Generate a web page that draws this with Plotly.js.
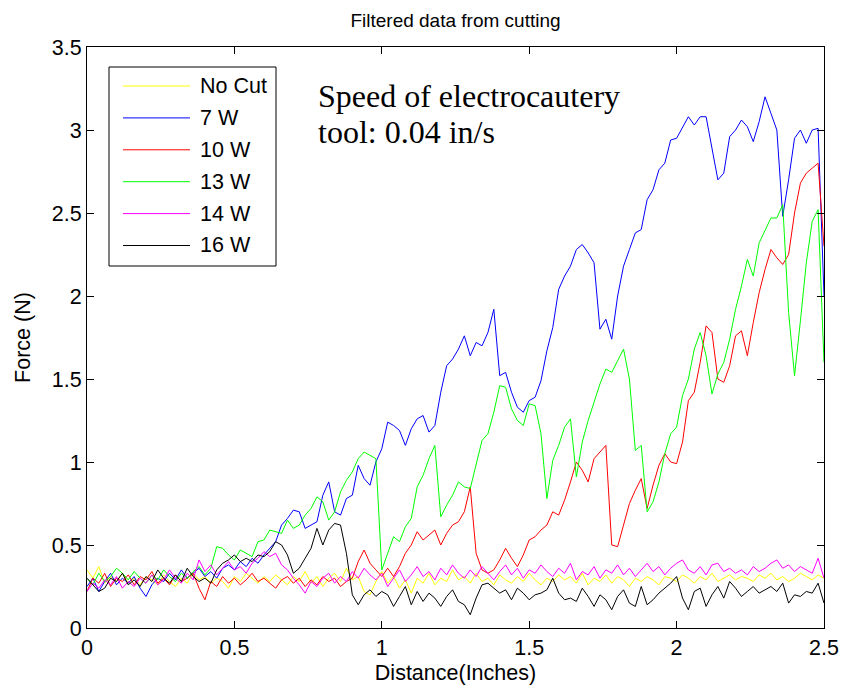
<!DOCTYPE html>
<html>
<head>
<meta charset="utf-8">
<script src="https://cdn.plot.ly/plotly-3.0.1.min.js"></script>
<style>
  html, body { margin: 0; padding: 0; background: #ffffff; }
  #chart { width: 845px; height: 690px; }
</style>
</head>
<body>
<div id="chart"></div>
<script>
// ---------------- DATA ----------------
const chartTitle = "Filtered data from cutting";
const xTitle = "Distance(Inches)";
const yTitle = "Force (N)";
const noteLines = ["Speed of electrocautery", "tool: 0.04 in/s"];
const seriesNames = ["No Cut", "7 W", "10 W", "13 W", "14 W", "16 W"];

const distance = [
  0.00,0.02,0.04,0.06,0.08,0.10,0.12,0.14,0.16,0.18,
  0.20,0.22,0.24,0.26,0.28,0.30,0.32,0.34,0.36,0.38,
  0.40,0.42,0.44,0.46,0.48,0.50,0.52,0.54,0.56,0.58,
  0.60,0.62,0.64,0.66,0.68,0.70,0.72,0.74,0.76,0.78,
  0.80,0.82,0.84,0.86,0.88,0.90,0.92,0.94,0.96,0.98,
  1.00,1.02,1.04,1.06,1.08,1.10,1.12,1.14,1.16,1.18,
  1.20,1.22,1.24,1.26,1.28,1.30,1.32,1.34,1.36,1.38,
  1.40,1.42,1.44,1.46,1.48,1.50,1.52,1.54,1.56,1.58,
  1.60,1.62,1.64,1.66,1.68,1.70,1.72,1.74,1.76,1.78,
  1.80,1.82,1.84,1.86,1.88,1.90,1.92,1.94,1.96,1.98,
  2.00,2.02,2.04,2.06,2.08,2.10,2.12,2.14,2.16,2.18,
  2.20,2.22,2.24,2.26,2.28,2.30,2.32,2.34,2.36,2.38,
  2.40,2.42,2.44,2.46,2.48,2.50
];

const forceNoCut = [
  0.35,0.30,0.37,0.27,0.31,0.28,0.33,0.27,0.30,0.26,
  0.31,0.29,0.26,0.32,0.28,0.25,0.30,0.27,0.33,0.29,
  0.31,0.27,0.30,0.28,0.24,0.31,0.28,0.33,0.30,0.27,
  0.31,0.28,0.32,0.29,0.26,0.31,0.28,0.34,0.27,0.31,
  0.25,0.30,0.33,0.28,0.36,0.29,0.31,0.22,0.20,0.28,
  0.34,0.27,0.31,0.24,0.29,0.21,0.30,0.27,0.33,0.26,
  0.30,0.28,0.35,0.29,0.31,0.27,0.33,0.28,0.30,0.26,
  0.32,0.29,0.27,0.31,0.28,0.33,0.29,0.26,0.30,0.28,
  0.32,0.29,0.31,0.27,0.33,0.26,0.30,0.28,0.32,0.27,
  0.31,0.29,0.25,0.30,0.28,0.31,0.29,0.26,0.31,0.30,
  0.28,0.32,0.30,0.27,0.31,0.29,0.33,0.28,0.30,0.32,
  0.29,0.31,0.30,0.28,0.32,0.30,0.33,0.29,0.31,0.28,
  0.30,0.33,0.31,0.29,0.32,0.30
];

const force7W = [
  0.25,0.30,0.22,0.28,0.33,0.26,0.30,0.27,0.31,0.24,
  0.19,0.26,0.30,0.28,0.33,0.29,0.35,0.30,0.33,0.36,
  0.31,0.34,0.30,0.36,0.38,0.35,0.40,0.37,0.42,0.39,
  0.44,0.48,0.52,0.62,0.66,0.71,0.70,0.60,0.62,0.64,
  0.80,0.88,0.70,0.68,0.78,0.80,0.98,0.90,0.86,1.00,
  1.08,1.24,1.22,1.19,1.10,1.20,1.26,1.28,1.18,1.22,
  1.42,1.58,1.62,1.68,1.76,1.64,1.72,1.70,1.78,1.92,
  1.52,1.54,1.42,1.33,1.30,1.37,1.39,1.49,1.67,1.81,
  2.04,2.12,2.18,2.28,2.31,2.26,2.20,1.80,1.86,1.74,
  2.00,2.18,2.28,2.38,2.40,2.58,2.64,2.76,2.80,2.94,
  2.95,3.02,3.08,3.03,3.08,3.08,2.90,2.70,2.74,2.96,
  3.00,3.06,3.02,2.93,3.05,3.20,3.10,3.00,2.48,2.70,
  2.95,3.00,2.92,3.00,3.01,2.00
];

const force10W = [
  0.22,0.30,0.27,0.33,0.25,0.30,0.28,0.32,0.26,0.31,
  0.29,0.34,0.27,0.30,0.26,0.32,0.28,0.30,0.33,0.24,
  0.17,0.28,0.25,0.31,0.27,0.30,0.26,0.29,0.33,0.28,
  0.30,0.27,0.24,0.29,0.31,0.27,0.30,0.25,0.29,0.26,
  0.31,0.28,0.30,0.25,0.28,0.30,0.40,0.47,0.39,0.35,
  0.31,0.36,0.31,0.37,0.45,0.50,0.58,0.53,0.56,0.59,
  0.50,0.57,0.62,0.64,0.70,0.85,0.45,0.35,0.33,0.35,
  0.41,0.48,0.42,0.37,0.44,0.53,0.55,0.59,0.62,0.70,
  0.68,0.77,0.88,1.00,0.95,0.88,1.02,1.06,1.10,0.50,
  0.49,0.62,0.75,0.83,0.90,0.72,0.86,0.98,1.05,1.00,
  0.99,1.12,1.37,1.42,1.60,1.82,1.78,1.50,1.48,1.58,
  1.76,1.79,1.64,1.84,2.02,2.16,2.28,2.23,2.19,2.25,
  2.50,2.68,2.74,2.77,2.80,2.30
];

const force13W = [
  0.30,0.26,0.33,0.28,0.31,0.36,0.33,0.29,0.34,0.30,
  0.27,0.32,0.29,0.35,0.31,0.28,0.33,0.30,0.34,0.37,
  0.32,0.36,0.49,0.48,0.44,0.41,0.47,0.45,0.43,0.52,
  0.53,0.59,0.58,0.57,0.65,0.60,0.62,0.68,0.72,0.79,
  0.76,0.65,0.70,0.82,0.89,0.94,1.02,1.06,1.04,1.02,
  0.35,0.45,0.55,0.52,0.61,0.66,0.85,0.92,1.02,1.10,
  0.67,0.74,0.80,0.88,0.85,0.84,0.99,1.13,1.17,1.30,
  1.46,1.45,1.32,1.25,1.22,1.35,1.34,1.17,0.78,1.01,
  1.10,1.21,1.26,0.91,1.12,1.25,1.36,1.47,1.56,1.54,
  1.61,1.68,1.50,1.07,1.10,0.70,0.76,0.88,1.05,1.17,
  1.21,1.40,1.50,1.68,1.78,1.64,1.41,1.53,1.60,1.74,
  1.92,2.06,2.22,2.12,2.32,2.40,2.47,2.47,2.55,1.90,
  1.52,1.85,2.20,2.45,2.52,1.60
];

const force14W = [
  0.22,0.27,0.24,0.29,0.26,0.31,0.24,0.28,0.25,0.30,
  0.27,0.32,0.26,0.29,0.35,0.30,0.27,0.33,0.29,0.41,
  0.34,0.38,0.32,0.36,0.40,0.35,0.37,0.33,0.39,0.42,
  0.46,0.43,0.45,0.38,0.35,0.30,0.26,0.21,0.28,0.25,
  0.30,0.33,0.27,0.31,0.28,0.34,0.30,0.36,0.32,0.29,
  0.33,0.25,0.30,0.35,0.28,0.32,0.37,0.31,0.34,0.29,
  0.36,0.32,0.38,0.33,0.30,0.35,0.31,0.37,0.33,0.29,
  0.34,0.38,0.32,0.36,0.30,0.35,0.33,0.38,0.34,0.31,
  0.36,0.33,0.39,0.29,0.34,0.32,0.37,0.30,0.35,0.33,
  0.38,0.32,0.36,0.31,0.35,0.39,0.34,0.37,0.32,0.36,
  0.39,0.41,0.35,0.33,0.37,0.32,0.38,0.39,0.34,0.36,
  0.33,0.35,0.32,0.37,0.34,0.36,0.39,0.41,0.36,0.38,
  0.34,0.37,0.35,0.33,0.42,0.30
];

const force16W = [
  0.30,0.26,0.22,0.24,0.30,0.28,0.33,0.26,0.29,0.25,
  0.31,0.28,0.35,0.30,0.27,0.32,0.28,0.36,0.31,0.28,
  0.30,0.27,0.35,0.39,0.41,0.44,0.40,0.42,0.40,0.44,
  0.43,0.46,0.52,0.50,0.44,0.33,0.36,0.42,0.48,0.60,
  0.50,0.59,0.63,0.62,0.45,0.20,0.14,0.20,0.23,0.19,
  0.22,0.20,0.13,0.19,0.25,0.14,0.22,0.16,0.21,0.18,
  0.13,0.19,0.23,0.16,0.14,0.08,0.18,0.26,0.27,0.24,
  0.21,0.23,0.17,0.24,0.21,0.17,0.20,0.21,0.23,0.30,
  0.21,0.17,0.18,0.16,0.24,0.19,0.13,0.20,0.17,0.11,
  0.19,0.23,0.15,0.13,0.25,0.14,0.17,0.21,0.24,0.27,
  0.31,0.18,0.11,0.22,0.24,0.13,0.20,0.25,0.18,0.28,
  0.24,0.19,0.22,0.25,0.21,0.23,0.25,0.22,0.27,0.15,
  0.20,0.19,0.22,0.21,0.27,0.15
];

const xTickVals = [0, 0.5, 1, 1.5, 2, 2.5];
const xTickText = ["0", "0.5", "1", "1.5", "2", "2.5"];
const yTickVals = [0, 0.5, 1, 1.5, 2, 2.5, 3, 3.5];
const yTickText = ["0", "0.5", "1", "1.5", "2", "2.5", "3", "3.5"];

// ---------------- STYLE ----------------
const seriesColors = ["#ffff00", "#0000ff", "#ff0000", "#00ff00", "#ff00ff", "#000000"];
const allForces = [forceNoCut, force7W, force10W, force13W, force14W, force16W];

const W = 845, H = 690;
const M = { l: 87, r: 21, t: 47, b: 62 };
const PW = W - M.l - M.r, PH = H - M.t - M.b;
const px2x = p => (p - M.l) / PW;
const px2y = p => (H - M.b - p) / PH;

const sansFont = "Arial, 'Liberation Sans', Helvetica, sans-serif";
const serifFont = "'Times New Roman', 'Liberation Serif', Times, serif";
const baseSize = 21.5;

const traces = allForces.map((ys, i) => ({
  type: "scatter",
  mode: "lines",
  x: distance,
  y: ys,
  name: seriesNames[i],
  line: { color: seriesColors[i], width: 1 },
  showlegend: false,
  hoverinfo: "skip"
}));

// manual MATLAB-style legend box
const legBox = { left: 109, right: 276, top: 67, bottom: 266 };
const legRow0 = 86, legRowStep = 31.9;
const legLineX0 = 123, legLineX1 = 190, legTextX = 198;

const shapes = [{
  type: "rect", xref: "paper", yref: "paper", layer: "above",
  x0: px2x(legBox.left), x1: px2x(legBox.right),
  y0: px2y(legBox.bottom), y1: px2y(legBox.top),
  line: { color: "#000000", width: 1 }, fillcolor: "#ffffff"
}];
const annotations = [];
seriesNames.forEach((nm, i) => {
  const yy = px2y(legRow0 + i * legRowStep);
  shapes.push({
    type: "line", xref: "paper", yref: "paper", layer: "above",
    x0: px2x(legLineX0), x1: px2x(legLineX1), y0: yy, y1: yy,
    line: { color: seriesColors[i], width: 1 }
  });
  annotations.push({
    xref: "paper", yref: "paper", x: px2x(legTextX), y: yy,
    xanchor: "left", yanchor: "middle", showarrow: false,
    text: nm, font: { family: sansFont, size: baseSize, color: "#000000" }
  });
});
const noteY = [96, 132];
noteLines.forEach((ln, i) => {
  annotations.push({
    xref: "paper", yref: "paper", x: px2x(316), y: px2y(noteY[i]),
    xanchor: "left", yanchor: "middle", align: "left", showarrow: false,
    text: ln,
    font: { family: serifFont, size: 32, color: "#000000" }
  });
});

const axisCommon = {
  showline: true, linecolor: "#000000", linewidth: 1, mirror: "ticks",
  ticks: "inside", ticklen: 7, tickwidth: 1, tickcolor: "#000000",
  showgrid: false, zeroline: false, automargin: false,
  tickfont: { family: sansFont, size: baseSize, color: "#000000" }
};

const layout = {
  width: W, height: H,
  margin: M,
  paper_bgcolor: "#ffffff", plot_bgcolor: "#ffffff",
  showlegend: false,
  title: {
    text: chartTitle,
    font: { family: sansFont, size: 19, color: "#000000" },
    x: 455.5 / W, xref: "container", xanchor: "center",
    y: 1 - 20 / H, yref: "container", yanchor: "middle"
  },
  xaxis: Object.assign({}, axisCommon, {
    range: [0, 2.5], tickvals: xTickVals, ticktext: xTickText,
    title: { text: xTitle, font: { family: sansFont, size: baseSize, color: "#000000" }, standoff: 6 }
  }),
  yaxis: Object.assign({}, axisCommon, {
    range: [0, 3.5], tickvals: yTickVals, ticktext: yTickText,
    title: { text: yTitle, font: { family: sansFont, size: baseSize, color: "#000000" }, standoff: 15 }
  }),
  shapes: shapes,
  annotations: annotations
};

Plotly.newPlot("chart", traces, layout, { staticPlot: true, displayModeBar: false });
</script>
</body>
</html>
